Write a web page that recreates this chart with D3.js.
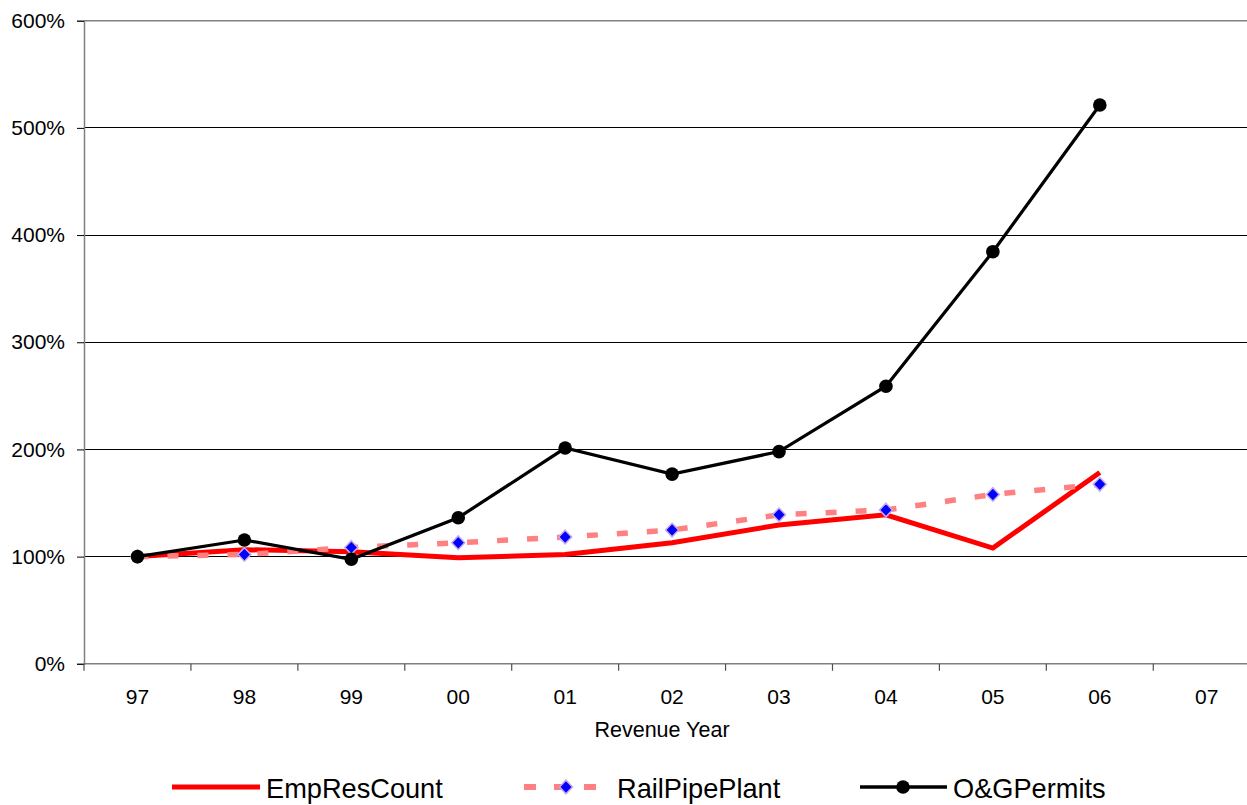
<!DOCTYPE html>
<html>
<head>
<meta charset="utf-8">
<script src="https://cdn.jsdelivr.net/npm/d3@7"></script>
<style>
  html, body { margin: 0; padding: 0; background: #fff; }
  svg { display: block; font-family: "Liberation Sans", Arial, sans-serif; }
</style>
</head>
<body>
<svg id="chart" width="1247" height="805"></svg>
<script>
// Revenue years (category axis)
const years = ["97", "98", "99", "00", "01", "02", "03", "04", "05", "06", "07"];

// Growth relative to 1997 (percent), one value per year through 06
const empResCount   = [100, 106.5, 104.5, 99, 102, 113, 129.5, 139, 108, 178.5];
const railPipePlant = [100, 102, 108.5, 113, 118.3, 124.8, 139, 143.5, 158, 167.5];
const ogPermits     = [100, 115.5, 97.5, 136.3, 201.3, 177, 198, 259, 384.5, 521.4];

// Value axis ticks
const yTicks = [0, 100, 200, 300, 400, 500, 600];

const seriesNames = ["EmpResCount", "RailPipePlant", "O&GPermits"];

const svg = d3.select("#chart");

const plot = { left: 84, right: 1260.2, top: 20.7, bottom: 663.8 };

const x = d3.scaleBand().domain(years).range([plot.left, plot.right]).padding(0);
const y = d3.scaleLinear().domain([0, 600]).range([plot.bottom, plot.top]);
const cx = d => x(d) + x.bandwidth() / 2;

// Horizontal gridlines
svg.append("g")
  .selectAll("line")
  .data(yTicks.filter(t => t > 0 && t < 600))
  .join("line")
  .attr("x1", plot.left).attr("x2", plot.right)
  .attr("y1", d => y(d)).attr("y2", d => y(d))
  .attr("stroke", "#000").attr("stroke-width", 1)
  .attr("shape-rendering", "crispEdges");

// Top border of the plot area
svg.append("line")
  .attr("x1", plot.left).attr("x2", plot.right)
  .attr("y1", y(600)).attr("y2", y(600))
  .attr("stroke", "#808080").attr("stroke-width", 1.5);

// Y axis
const yAxis = d3.axisLeft(y)
  .tickValues(yTicks)
  .tickFormat(d => d + "%")
  .tickSize(7)
  .tickPadding(12);
const gy = svg.append("g")
  .attr("transform", `translate(${plot.left},0)`)
  .call(yAxis);
gy.select(".domain").attr("stroke", "#808080").attr("stroke-width", 1.5);
gy.selectAll(".tick line").attr("stroke", "#000");
gy.selectAll(".tick text")
  .attr("font-size", "21px")
  .attr("fill", "#000")
  .attr("font-family", "Liberation Sans, Arial, sans-serif");

// X axis: ticks at band boundaries, labels at band centres
const gx = svg.append("g").attr("transform", `translate(0,${plot.bottom})`);
gx.append("line")
  .attr("x1", plot.left).attr("x2", plot.right)
  .attr("y1", 0).attr("y2", 0)
  .attr("stroke", "#808080").attr("stroke-width", 1.5);
const boundaries = years.map(d => x(d)).concat([plot.right]);
gx.selectAll("line.tick")
  .data(boundaries)
  .join("line")
  .attr("class", "tick")
  .attr("x1", d => d).attr("x2", d => d)
  .attr("y1", 0).attr("y2", 7)
  .attr("stroke", "#505050").attr("stroke-width", 1.2);
gx.selectAll("text")
  .data(years)
  .join("text")
  .attr("x", d => cx(d))
  .attr("y", 40.5)
  .attr("text-anchor", "middle")
  .attr("font-size", "21px")
  .attr("fill", "#000")
  .text(d => d);

// Axis title
svg.append("text")
  .attr("x", 662)
  .attr("y", 737)
  .attr("text-anchor", "middle")
  .attr("font-size", "21.5px")
  .attr("fill", "#000")
  .text("Revenue Year");

const line = d3.line()
  .x((d, i) => cx(years[i]))
  .y(d => y(d));

// EmpResCount: solid red
svg.append("path")
  .datum(empResCount)
  .attr("d", line)
  .attr("fill", "none")
  .attr("stroke", "#ff0000")
  .attr("stroke-width", 5)
  .attr("stroke-linejoin", "miter");

// RailPipePlant: pink dashes with blue diamonds
svg.append("path")
  .datum(railPipePlant)
  .attr("d", line)
  .attr("fill", "none")
  .attr("stroke", "#ff8080")
  .attr("stroke-width", 5.5)
  .attr("stroke-dasharray", "11,19");

const diamondPath = "M0,-6.8L6.5,0L0,6.8L-6.5,0Z";
svg.append("g")
  .selectAll("path")
  .data(railPipePlant)
  .join("path")
  .attr("d", diamondPath)
  .attr("transform", (d, i) => `translate(${cx(years[i])},${y(d)})`)
  .attr("fill", "#0000ff")
  .attr("stroke", "#c8a8e8")
  .attr("stroke-width", 1.5);

// O&GPermits: black line with round markers
svg.append("path")
  .datum(ogPermits)
  .attr("d", line)
  .attr("fill", "none")
  .attr("stroke", "#000")
  .attr("stroke-width", 3.2);
svg.append("g")
  .selectAll("circle")
  .data(ogPermits)
  .join("circle")
  .attr("cx", (d, i) => cx(years[i]))
  .attr("cy", d => y(d))
  .attr("r", 6.8)
  .attr("fill", "#000");

// Legend
const legendY = 787;
const legend = svg.append("g");
const legendItems = [
  { name: seriesNames[0], x1: 172, x2: 260, tx: 266 },
  { name: seriesNames[1], x1: 524, x2: 597, tx: 617 },
  { name: seriesNames[2], x1: 860, x2: 947, tx: 953 }
];

// EmpResCount sample
legend.append("line")
  .attr("x1", legendItems[0].x1).attr("x2", legendItems[0].x2)
  .attr("y1", legendY).attr("y2", legendY)
  .attr("stroke", "#ff0000").attr("stroke-width", 5);

// RailPipePlant sample
legend.append("line")
  .attr("x1", legendItems[1].x1).attr("x2", legendItems[1].x2)
  .attr("y1", legendY).attr("y2", legendY)
  .attr("stroke", "#ff8080").attr("stroke-width", 6)
  .attr("stroke-dasharray", "12,18");
legend.append("path")
  .attr("d", diamondPath)
  .attr("transform", `translate(566,${legendY})`)
  .attr("fill", "#0000ff")
  .attr("stroke", "#c8a8e8")
  .attr("stroke-width", 1.5);

// O&GPermits sample
legend.append("line")
  .attr("x1", legendItems[2].x1).attr("x2", legendItems[2].x2)
  .attr("y1", legendY).attr("y2", legendY)
  .attr("stroke", "#000").attr("stroke-width", 3.3);
legend.append("circle")
  .attr("cx", 903).attr("cy", legendY).attr("r", 6.8)
  .attr("fill", "#000");

legend.selectAll("text")
  .data(legendItems)
  .join("text")
  .attr("x", d => d.tx)
  .attr("y", 798)
  .attr("font-size", "27.2px")
  .attr("fill", "#000")
  .text(d => d.name);
</script>
</body>
</html>
